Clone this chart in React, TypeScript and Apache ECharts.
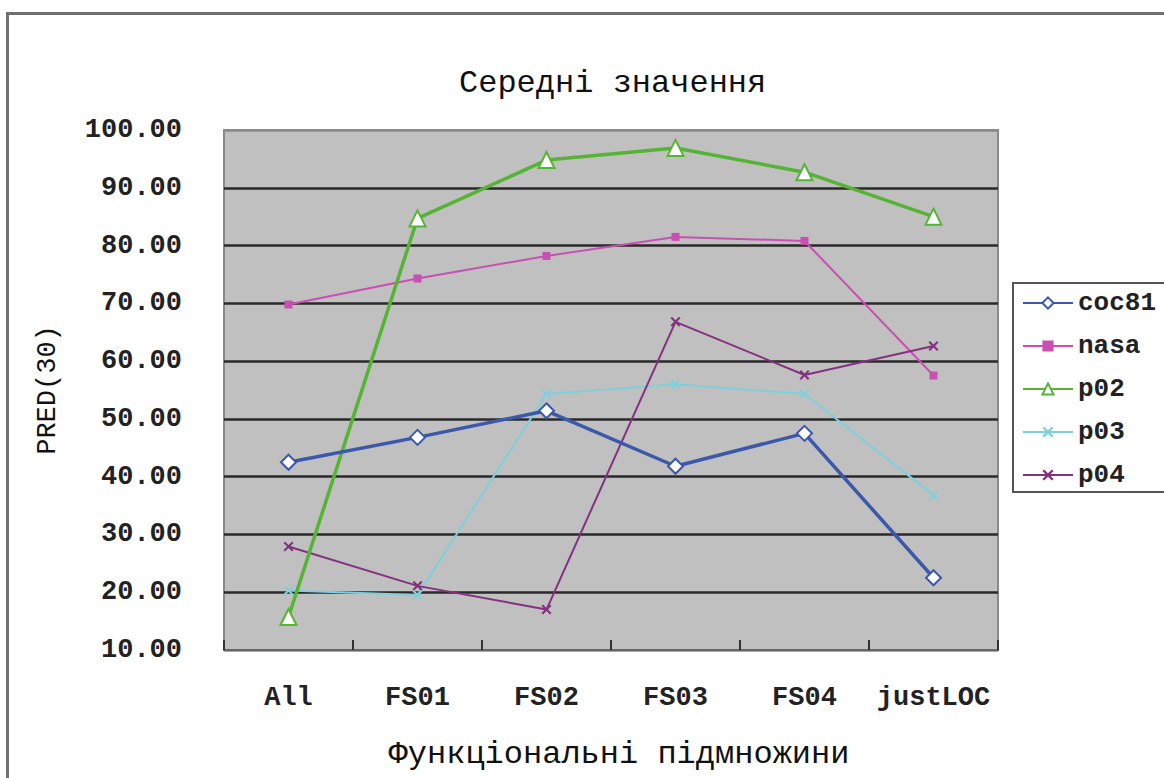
import React, { useEffect, useRef } from "react";
import * as echarts from "echarts";

const categories = ["All", "FS01", "FS02", "FS03", "FS04", "justLOC"];
const coc81 = [42.5, 46.8, 51.4, 41.8, 47.5, 22.5];
const nasa = [69.8, 74.3, 78.2, 81.5, 80.8, 57.5];
const p02 = [15.7, 84.7, 94.8, 96.9, 92.7, 85.0];
const p03 = [20.3, 19.5, 54.3, 56.0, 54.3, 36.8];
const p04 = [27.9, 21.1, 17.0, 66.8, 57.6, 62.6];
const yTicks = { min: 10, max: 100, interval: 10 };

const MONO = "'Liberation Mono', 'DejaVu Sans Mono', monospace";
const xMark =
  "path://M0,1.5 L1.5,0 L5,3.5 L8.5,0 L10,1.5 L6.5,5 L10,8.5 L8.5,10 L5,6.5 L1.5,10 L0,8.5 L3.5,5 Z";

export default function App() {
  const ref = useRef<HTMLDivElement>(null);
  useEffect(() => {
    if (!ref.current) return;
    const chart = echarts.init(ref.current, undefined, { renderer: "svg" });
    const gridColors = ["#8a8a8a", "#2a2a2a", "#2a2a2a", "#2a2a2a", "#2a2a2a", "#2a2a2a", "#2a2a2a", "#2a2a2a", "#2a2a2a", "#8a8a8a"];
    chart.setOption({
      animation: false,
      backgroundColor: "#ffffff",
      title: {
        text: "Середні значення",
        left: 454,
        top: 62,
        textStyle: { fontFamily: MONO, fontSize: 32, fontWeight: "normal", color: "#111" },
      },
      grid: {
        left: 224,
        top: 130,
        width: 774,
        height: 520,
        show: true,
        backgroundColor: "#c0c0c0",
        borderColor: "#8a8a8a",
        borderWidth: 2,
      },
      legend: {
        orient: "vertical",
        left: 1013,
        top: 283,
        padding: [7, 80, 4, 9],
        itemWidth: 50,
        itemHeight: 14,
        itemGap: 17,
        borderColor: "#555",
        borderWidth: 2,
        textStyle: { fontFamily: MONO, fontSize: 26, fontWeight: "bold", color: "#222" },
        data: ["coc81", "nasa", "p02", "p03", "p04"],
      },
      xAxis: {
        type: "category",
        data: categories,
        boundaryGap: true,
        name: "Функціональні підмножини",
        nameLocation: "middle",
        nameGap: 88,
        nameTextStyle: { fontFamily: MONO, fontSize: 32, color: "#111", padding: [0, 0, 0, 16] },
        axisLine: { show: true, lineStyle: { color: "#666", width: 2 } },
        axisTick: { show: true, interval: 0, inside: true, length: 10, lineStyle: { color: "#333", width: 2 } },
        axisLabel: { interval: 0, margin: 34, fontFamily: MONO, fontSize: 27, fontWeight: "bold", color: "#222" },
        splitLine: { show: false },
        z: 10,
      },
      yAxis: {
        type: "value",
        min: yTicks.min,
        max: yTicks.max,
        interval: yTicks.interval,
        name: "PRED(30)",
        nameLocation: "middle",
        nameGap: 163,
        nameRotate: 90,
        nameTextStyle: { fontFamily: MONO, fontSize: 27, color: "#111" },
        axisLine: { show: false },
        axisTick: { show: false },
        axisLabel: {
          margin: 42,
          fontFamily: MONO,
          fontSize: 27,
          fontWeight: "bold",
          color: "#222",
          formatter: (v: number) => v.toFixed(2),
        },
        splitLine: { show: true, lineStyle: { color: gridColors, width: 2.5 } },
      },
      series: [
        {
          name: "coc81",
          type: "line",
          data: coc81,
          symbol: "diamond",
          symbolSize: 15,
          lineStyle: { color: "#3b58aa", width: 3.5 },
          itemStyle: { color: "#ffffff", borderColor: "#3b58aa", borderWidth: 2 },
          z: 5,
        },
        {
          name: "nasa",
          type: "line",
          data: nasa,
          symbol: "rect",
          symbolSize: 8,
          lineStyle: { color: "#c94fb3", width: 2 },
          itemStyle: { color: "#c94fb3" },
          z: 3,
        },
        {
          name: "p02",
          type: "line",
          data: p02,
          symbol: "triangle",
          symbolSize: 16,
          lineStyle: { color: "#56b434", width: 3.5 },
          itemStyle: { color: "#ffffff", borderColor: "#56b434", borderWidth: 2 },
          z: 4,
        },
        {
          name: "p03",
          type: "line",
          data: p03,
          symbol: xMark,
          symbolSize: 10,
          lineStyle: { color: "#7fd0dc", width: 2 },
          itemStyle: { color: "#7fd0dc" },
          z: 3,
        },
        {
          name: "p04",
          type: "line",
          data: p04,
          symbol: xMark,
          symbolSize: 10,
          lineStyle: { color: "#84327f", width: 2 },
          itemStyle: { color: "#84327f" },
          z: 3,
        },
      ],
      graphic: [
        {
          type: "rect",
          left: 5,
          top: 11,
          shape: { width: 1400, height: 1000 },
          style: { fill: "none", stroke: "#707070", lineWidth: 3 },
          silent: true,
          z: 100,
        },
      ],
    });
    return () => chart.dispose();
  }, []);
  return <div ref={ref} style={{ position: "absolute", left: 0, top: 0, width: 1164, height: 778 }} />;
}
